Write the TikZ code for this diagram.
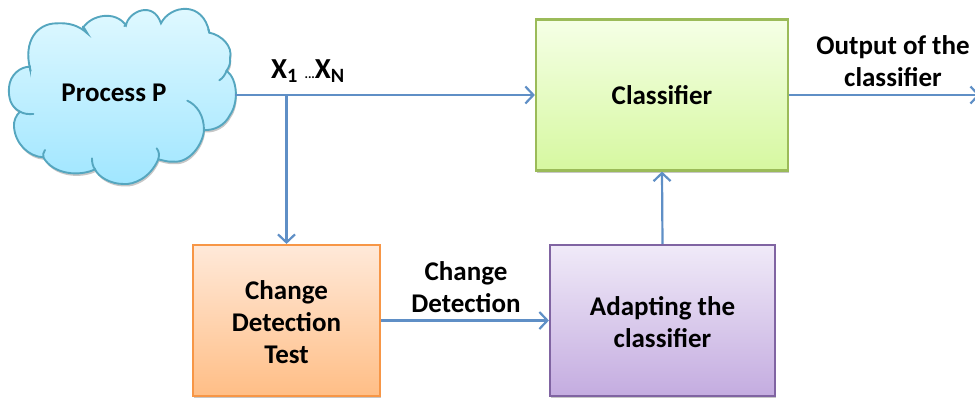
\documentclass[tikz,border=0pt]{standalone}
\usepackage{fontspec}
\setmainfont{Carlito}
\usetikzlibrary{arrows.meta,shadows}
\definecolor{flow}{HTML}{5F8FC6}
\definecolor{cloudedge}{HTML}{55A6BF}
\definecolor{cloudtop}{HTML}{E2F9FF}
\definecolor{cloudbot}{HTML}{A0E6FF}
\definecolor{greenedge}{HTML}{9BBB59}
\definecolor{greentop}{HTML}{F5FFE6}
\definecolor{greenbot}{HTML}{D6F8A0}
\definecolor{orangeedge}{HTML}{F79646}
\definecolor{orangetop}{HTML}{FFE9D9}
\definecolor{orangebot}{HTML}{FFBE86}
\definecolor{purpleedge}{HTML}{8064A2}
\definecolor{purpletop}{HTML}{F0EAF8}
\definecolor{purplebot}{HTML}{C4ACE0}
\tikzset{
  every node/.style={font=\fontsize{27}{32}\selectfont\bfseries, text=black, align=center, inner sep=0pt},
  softshadow/.style={drop shadow={shadow xshift=1pt,shadow yshift=-2.5pt,opacity=.22,fill=black}},
  blockbox/.style={minimum height=151pt, draw=#1, line width=2.2pt, softshadow},
  conn/.style={draw=flow, line width=2.2pt},
  arrowconn/.style={conn, -{Straight Barb[length=8pt,width=17pt]}},
  cloudline/.style={draw=cloudedge, line width=1.9pt, line cap=round}
}
\begin{document}
\begin{tikzpicture}[x=1pt,y=-1pt]
\useasboundingbox (0,0) rectangle (975,397);
\clip (0,0) rectangle (975,397);
% cloud
\begin{scope}[x=.3333pt,y=-.3333pt]
\path[top color=cloudtop,bottom color=cloudbot,softshadow,cloudline]
  (90,205) .. controls (70,125) and (110,70) .. (170,70)
  .. controls (205,68) and (235,75) .. (262,100)
  .. controls (255,90) and (255,85) .. (250,82)
  .. controls (275,45) and (345,30) .. (378,76)
  .. controls (385,35) and (460,0) .. (483,70)
  .. controls (510,15) and (610,0) .. (628,98)
  .. controls (665,105) and (700,140) .. (690,175)
  .. controls (692,190) and (688,200) .. (680,212)
  .. controls (715,240) and (715,310) .. (690,345)
  .. controls (675,375) and (645,392) .. (612,390)
  .. controls (610,430) and (570,490) .. (520,485)
  .. controls (505,487) and (485,480) .. (475,478)
  .. controls (450,535) and (400,555) .. (370,552)
  .. controls (330,552) and (295,530) .. (285,508)
  .. controls (240,530) and (160,525) .. (130,472)
  .. controls (85,470) and (45,430) .. (42,380)
  .. controls (40,365) and (48,345) .. (60,335)
  .. controls (30,320) and (25,290) .. (27,262)
  .. controls (30,225) and (60,200) .. (90,200)
  -- cycle;
\draw[cloudline] (262,100) .. controls (255,92) and (250,85) .. (248,80);
\draw[cloudline] (378,76) -- (373,78);
\draw[cloudline] (628,98) -- (625,88);
\draw[cloudline] (680,212) .. controls (675,225) and (668,235) .. (658,241);
\draw[cloudline] (562,302) .. controls (590,315) and (612,345) .. (612,390);
\draw[cloudline] (475,478) .. controls (478,465) and (478,455) .. (470,445);
\draw[cloudline] (285,508) .. controls (278,498) and (276,488) .. (276,475);
\draw[cloudline] (130,472) .. controls (128,465) and (130,458) .. (135,450);
\draw[cloudline] (60,335) .. controls (72,342) and (85,343) .. (100,342);
\draw[cloudline] (90,205) -- (92,213);
\end{scope}
\node (cloudlabel) at (114,92.5) {Process P};
% blocks
\node[blockbox=greenedge, top color=greentop, bottom color=greenbot, minimum width=252pt] (classifier) at (662,95) {\raisebox{-1pt}{Classifier}};
\node[blockbox=orangeedge, top color=orangetop, bottom color=orangebot, minimum width=187pt] (cdt) at (286.5,320.5) {\rule{0pt}{22pt}Change\\Detection\\Test};
\node[blockbox=purpleedge, top color=purpletop, bottom color=purplebot, minimum width=225pt] (adapt) at (662.5,320.5) {\rule{0pt}{22pt}Adapting the\\classifier};
% labels
\node[font=\fontsize{29}{32}\selectfont\bfseries] (xlabel) at (308,71) {X\textsubscript{1} \raisebox{0pt}{\fontsize{13}{13}\selectfont ...}X\textsubscript{N}};
\node (cdlabel) at (466,287) {Change\\Detection};
\node (outlabel) at (893,61) {Output of the\\classifier};
% connector ends
\coordinate (cloudout) at (235,95);
\coordinate (junction) at (286.5,95);
\coordinate (outend) at (980,95);
% connectors
\draw[arrowconn] (cloudout) -- (classifier.west);
\draw[arrowconn] (junction) -- (cdt.north);
\draw[arrowconn] (cdt.east) -- (adapt.west);
\draw[arrowconn] (adapt.north) -- (classifier.south);
\draw[arrowconn] (classifier.east) -- (outend);
\end{tikzpicture}
\end{document}
